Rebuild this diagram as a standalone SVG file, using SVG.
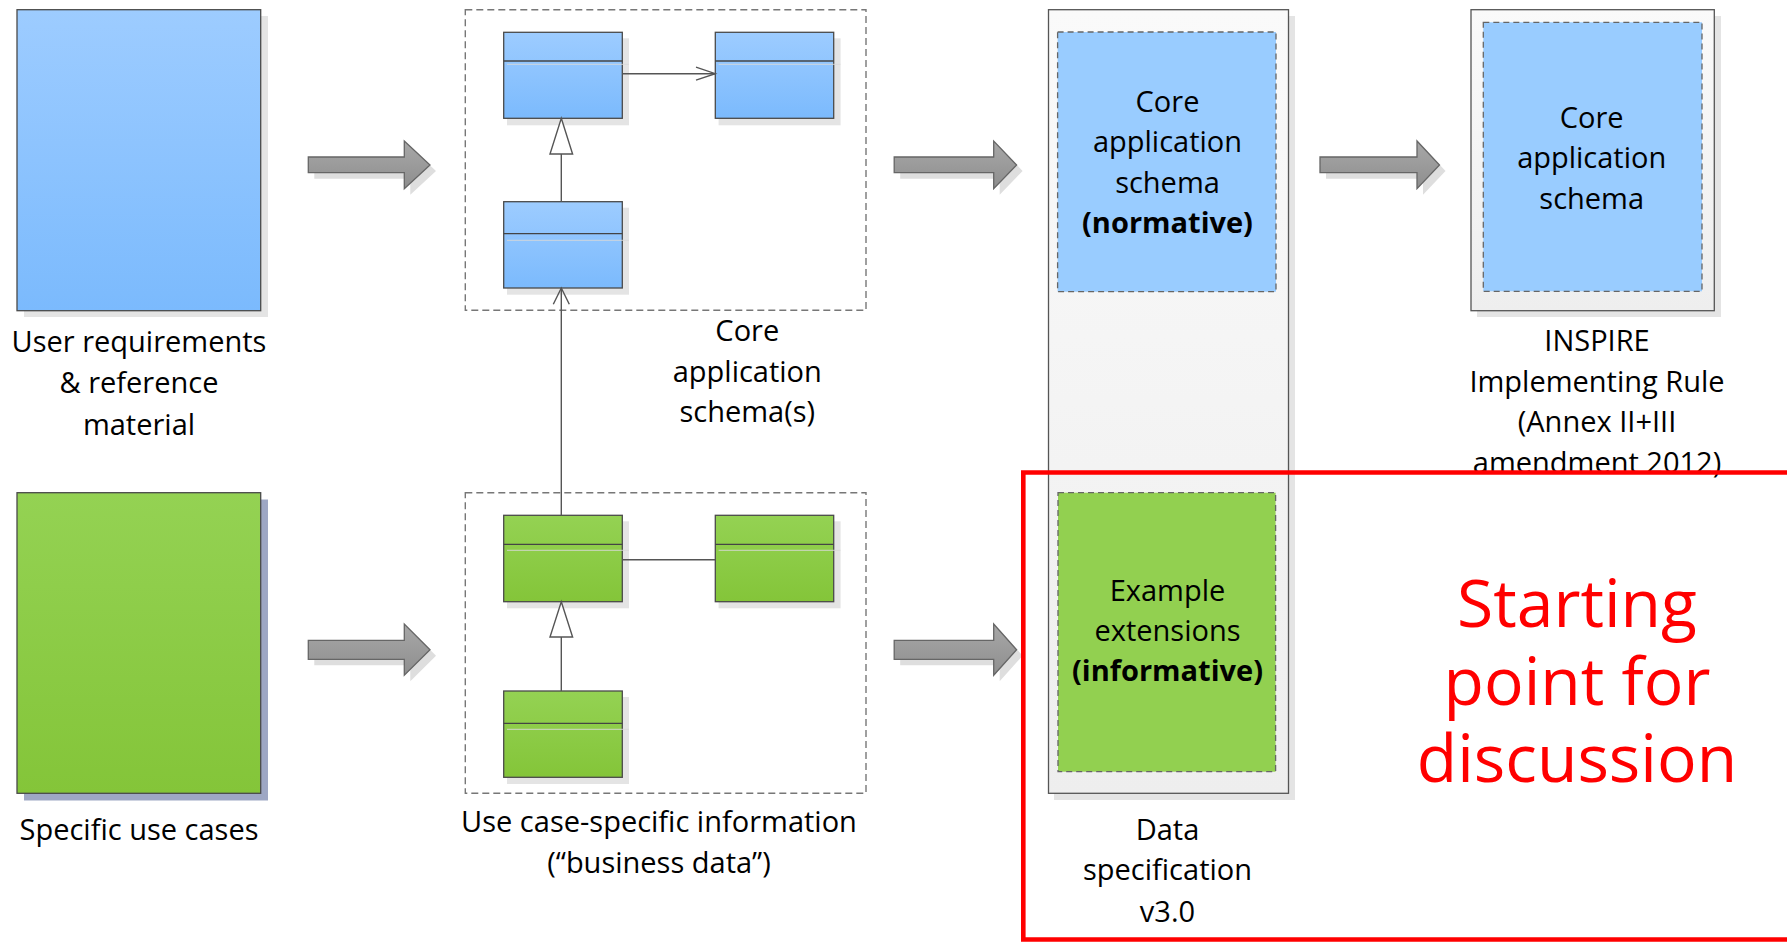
<svg xmlns="http://www.w3.org/2000/svg" width="1787" height="942" viewBox="0 0 1787 942">
<defs>
<linearGradient id="gBlue" x1="0" y1="0" x2="0" y2="1"><stop offset="0" stop-color="#9dccff"/><stop offset="1" stop-color="#7bbafd"/></linearGradient>
<linearGradient id="gGreen" x1="0" y1="0" x2="0" y2="1"><stop offset="0" stop-color="#94d253"/><stop offset="1" stop-color="#84c539"/></linearGradient>
<linearGradient id="gGray" x1="0" y1="0" x2="0" y2="1"><stop offset="0" stop-color="#fafafa"/><stop offset="1" stop-color="#eeeeee"/></linearGradient>
<linearGradient id="gArrow" x1="0" y1="0" x2="0" y2="1"><stop offset="0" stop-color="#a8a8a8"/><stop offset="1" stop-color="#8e8e8e"/></linearGradient>
</defs>
<style>
.shadow{fill:#e4e4e4}
.box{stroke:#4a4a4a;stroke-width:1.3}
.blue{fill:url(#gBlue)}
.green{fill:url(#gGreen)}
.div{stroke:#444;stroke-width:1.3}
.sdiv{stroke:#d9d9d9;stroke-width:1.2;opacity:0.7}
.pkg{fill:none;stroke:#777;stroke-width:1.4;stroke-dasharray:7 4}
.inner{stroke:#666;stroke-width:1.3;stroke-dasharray:6 4}
.col{fill:url(#gGray);stroke:#555;stroke-width:1.3}
.conn{fill:none;stroke:#555;stroke-width:1.4}
.gen{fill:#fff;stroke:#555;stroke-width:1.4}
.barrow{fill:url(#gArrow);stroke:#666;stroke-width:1.3}
.bshadow{fill:#dedede}
text{font-family:"Open Sans","Liberation Sans",sans-serif;font-size:29px;fill:#000;text-anchor:middle}
.b{font-weight:bold}
.red{fill:#ff0000;font-size:66px}
</style>

<g id="user-requirements">
<rect class="shadow" x="24" y="16" width="244" height="301"/>
<rect class="box blue" x="17" y="9.7" width="243.7" height="301"/>
<text x="139" y="351.7">User requirements</text>
<text x="139" y="393">&amp; reference</text>
<text x="139" y="434.5">material</text>
</g>

<g id="specific-use-cases">
<rect x="24" y="499.5" width="244" height="301" fill="#9ea7c4"/>
<rect class="box green" x="17" y="492.7" width="243.7" height="300.6"/>
<text x="139" y="840">Specific use cases</text>
</g>

<g id="core-schemas">
<rect class="pkg" x="465.3" y="9.7" width="400.7" height="300.6"/>
<g id="class-a">
<rect class="shadow" x="507" y="38.3" width="122" height="87"/>
<rect class="box blue" x="503.7" y="32.3" width="118.6" height="86"/>
<line class="div" x1="503.7" y1="61" x2="622.3" y2="61"/>
<line class="sdiv" x1="507" y1="64.3" x2="629" y2="64.3"/>
</g>
<g id="class-b">
<rect class="shadow" x="718.6" y="38.3" width="122" height="87"/>
<rect class="box blue" x="715.3" y="32.3" width="118.4" height="86"/>
<line class="div" x1="715.3" y1="61" x2="833.7" y2="61"/>
<line class="sdiv" x1="718.6" y1="64.3" x2="840.4" y2="64.3"/>
</g>
<g id="class-c">
<rect class="shadow" x="507" y="207.7" width="122" height="87"/>
<rect class="box blue" x="503.7" y="201.7" width="118.6" height="86.3"/>
<line class="div" x1="503.7" y1="233.7" x2="622.3" y2="233.7"/>
<line class="sdiv" x1="507" y1="240.3" x2="629" y2="240.3"/>
</g>
<text x="747.3" y="340.7">Core</text>
<text x="747.3" y="381.5">application</text>
<text x="747.3" y="422">schema(s)</text>
</g>

<g id="business-data">
<rect class="pkg" x="465.3" y="492.7" width="400.7" height="300.6"/>
<g id="class-d">
<rect class="shadow" x="507" y="521.3" width="122" height="87"/>
<rect class="box green" x="503.7" y="515.3" width="118.6" height="86.4"/>
<line class="div" x1="503.7" y1="544.3" x2="622.3" y2="544.3"/>
<line class="sdiv" x1="507" y1="550.3" x2="629" y2="550.3"/>
</g>
<g id="class-e">
<rect class="shadow" x="718.6" y="521.3" width="122" height="87"/>
<rect class="box green" x="715.3" y="515.3" width="118.4" height="86.4"/>
<line class="div" x1="715.3" y1="544.3" x2="833.7" y2="544.3"/>
<line class="sdiv" x1="718.6" y1="550.3" x2="840.4" y2="550.3"/>
</g>
<g id="class-f">
<rect class="shadow" x="507" y="697" width="122" height="87"/>
<rect class="box green" x="503.7" y="691" width="118.6" height="86.3"/>
<line class="div" x1="503.7" y1="723.3" x2="622.3" y2="723.3"/>
<line class="sdiv" x1="507" y1="729.3" x2="629" y2="729.3"/>
</g>
<text x="659" y="831.7">Use case-specific information</text>
<text x="659" y="873.3">(“business data”)</text>
</g>

<g id="data-specification">
<rect class="shadow" x="1054" y="16" width="241" height="784"/>
<rect class="col" x="1048.5" y="9.7" width="240" height="783.6"/>
<rect class="inner" x="1057.6" y="32" width="218.4" height="259.7" fill="#99ccff"/>
<text x="1167.5" y="111.7">Core</text>
<text x="1167.5" y="152.3">application</text>
<text x="1167.5" y="193.3">schema</text>
<text class="b" x="1167.5" y="233.3">(normative)</text>
<rect class="inner" x="1058" y="492.7" width="217.6" height="279" fill="#92d050"/>
<text x="1167.5" y="600.5">Example</text>
<text x="1167.5" y="641">extensions</text>
<text class="b" x="1167.5" y="681">(informative)</text>
<text x="1167.5" y="840">Data</text>
<text x="1167.5" y="880">specification</text>
<text x="1167.5" y="921.7">v3.0</text>
</g>

<g id="inspire-ir">
<rect class="shadow" x="1477" y="16" width="244" height="301"/>
<rect class="col" x="1471" y="9.7" width="243.3" height="301"/>
<rect class="inner" x="1483.3" y="22.3" width="218.7" height="269" fill="#99ccff"/>
<text x="1591.7" y="127.7">Core</text>
<text x="1591.7" y="168.3">application</text>
<text x="1591.7" y="209">schema</text>
<text x="1597" y="350.7">INSPIRE</text>
<text x="1597" y="391.7">Implementing Rule</text>
<text x="1597" y="431.7">(Annex II+III</text>
<text x="1597" y="473">amendment 2012)</text>
</g>

<g id="connectors">
<line class="conn" x1="622.3" y1="73.7" x2="715.3" y2="73.7"/>
<polyline class="conn" points="696,67.2 715.3,73.7 696,80.2"/>
<line class="conn" x1="561.3" y1="154" x2="561.3" y2="201.7"/>
<polygon class="gen" points="561.3,118.3 572.6,154 550,154"/>
<line class="conn" x1="561.3" y1="637" x2="561.3" y2="691"/>
<polygon class="gen" points="561.3,601.7 572.6,637 550,637"/>
<line class="conn" x1="561.3" y1="515.3" x2="561.3" y2="288"/>
<polyline class="conn" points="553.3,304.3 561.3,288 569.3,304.3"/>
<line class="conn" x1="622.3" y1="559.7" x2="715.3" y2="559.7"/>

<g id="arrow1">
<polygon class="bshadow" points="314.3,163 410.3,163 410.3,147 436,171 410.3,194.7 410.3,178.7 314.3,178.7"/>
<polygon class="barrow" points="308.3,157 404.3,157 404.3,141 430,165 404.3,188.7 404.3,172.7 308.3,172.7"/>
</g>
<g id="arrow2">
<polygon class="bshadow" points="900.2,163 999.7,163 999.7,147 1022.6,171 999.7,194.7 999.7,178.7 900.2,178.7"/>
<polygon class="barrow" points="894.2,157 993.7,157 993.7,141 1016.6,165 993.7,188.7 993.7,172.7 894.2,172.7"/>
</g>
<g id="arrow3">
<polygon class="bshadow" points="1326,163 1423,163 1423,147 1445.5,171 1423,194.7 1423,178.7 1326,178.7"/>
<polygon class="barrow" points="1320,157 1417,157 1417,141 1439.5,165 1417,188.7 1417,172.7 1320,172.7"/>
</g>
<g id="arrow4">
<polygon class="bshadow" points="314.3,646.3 410.3,646.3 410.3,630 436,655.7 410.3,681.3 410.3,665.3 314.3,665.3"/>
<polygon class="barrow" points="308.3,640.3 404.3,640.3 404.3,624 430,649.7 404.3,675.3 404.3,659.3 308.3,659.3"/>
</g>
<g id="arrow5">
<polygon class="bshadow" points="900.2,646.3 999.7,646.3 999.7,630 1022.6,655.7 999.7,681.3 999.7,665.3 900.2,665.3"/>
<polygon class="barrow" points="894.2,640.3 993.7,640.3 993.7,624 1016.6,649.7 993.7,675.3 993.7,659.3 894.2,659.3"/>
</g>
</g>

<g id="discussion-frame">
<path d="M1795,472.5 H1023.3 V939.5 H1795" fill="none" stroke="#ff0000" stroke-width="4.6"/>
<text class="red" x="1577" y="626.7">Starting</text>
<text class="red" x="1577" y="705">point for</text>
<text class="red" x="1577" y="782.3">discussion</text>
</g>
</svg>
